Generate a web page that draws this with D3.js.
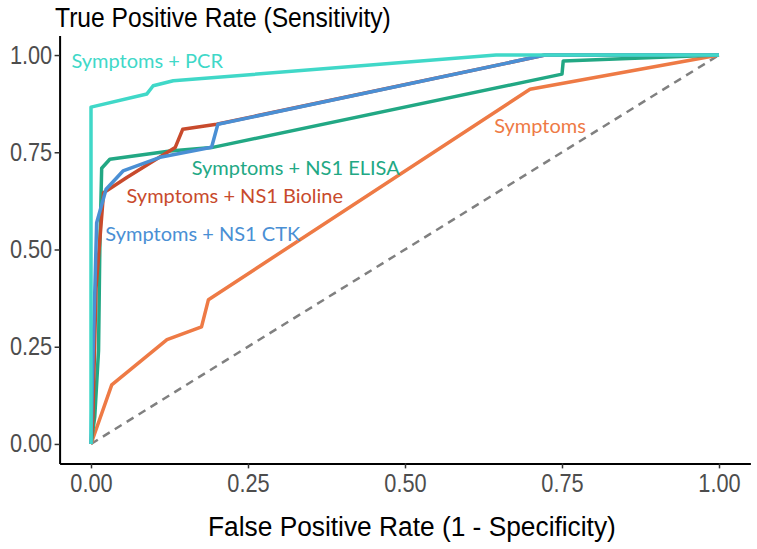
<!DOCTYPE html>
<html>
<head>
    <meta charset="utf-8">
    <title>ROC curves</title>
    <script type="text/javascript" src="https://d3js.org/d3.v7.min.js"></script>
    <style>
        body {
            margin: 0;
            background: #fff;
        }

        .axis-title {
            font-family: "Liberation Sans", Arial, sans-serif;
            font-size: 28px;
            fill: #000;
        }

        .tick-label {
            font-family: "Liberation Sans", Arial, sans-serif;
            font-size: 25px;
            fill: #4d4d4d;
        }

        .curve {
            fill: none;
            stroke-width: 3.5px;
            stroke-linejoin: round;
        }

        .curve-label {
            font-family: Lato, "Open Sans", sans-serif;
            font-size: 20px;
        }

        .diag {
            fill: none;
            stroke: #808080;
            stroke-width: 2.5px;
            stroke-dasharray: 8 6;
        }
    </style>
</head>

<body>

<script type="text/javascript">
    // values (FPR on x, TPR on y)
    var symptomsFpr = [0, 0.033, 0.121, 0.176, 0.187, 0.699, 1];
    var symptomsTpr = [0, 0.152, 0.268, 0.301, 0.371, 0.912, 1];

    var elisaFpr = [0, 0.006, 0.012, 0.014, 0.017, 0.030, 0.126, 0.192, 0.750, 0.752, 1];
    var elisaTpr = [0, 0.07, 0.24, 0.50, 0.709, 0.732, 0.753, 0.762, 0.951, 0.985, 1];

    var biolineFpr = [0, 0.003, 0.008, 0.020, 0.057, 0.134, 0.146, 0.200, 0.723, 1];
    var biolineTpr = [0, 0.07, 0.40, 0.646, 0.685, 0.762, 0.809, 0.822, 1, 1];

    var ctkFpr = [0, 0.002, 0.009, 0.024, 0.051, 0.110, 0.192, 0.202, 0.723, 1];
    var ctkTpr = [0, 0.15, 0.569, 0.655, 0.702, 0.737, 0.763, 0.822, 1, 1];

    var pcrFpr = [0, 0, 0.089, 0.099, 0.131, 0.645, 1];
    var pcrTpr = [0, 0.866, 0.900, 0.921, 0.934, 1, 1];

    var seriesNames = ["Symptoms", "Symptoms + NS1 ELISA", "Symptoms + NS1 Bioline",
        "Symptoms + NS1 CTK", "Symptoms + PCR"];
    var seriesColors = ["#ee7a45", "#22a884", "#c84a2c", "#4a8fd4", "#40d8c8"];

    // where each curve label sits, in data units (centre x, baseline y)
    var labelX = [0.715, 0.326, 0.229, 0.178, 0.0895];
    var labelY = [0.799, 0.692, 0.619, 0.523, 0.966];

    var tickValues = [0, 0.25, 0.5, 0.75, 1];

    var width = 757,
        height = 549;

    var series = [
        {fpr: symptomsFpr, tpr: symptomsTpr},
        {fpr: elisaFpr, tpr: elisaTpr},
        {fpr: biolineFpr, tpr: biolineTpr},
        {fpr: ctkFpr, tpr: ctkTpr},
        {fpr: pcrFpr, tpr: pcrTpr}
    ].map(function (s, i) {
        return {
            name: seriesNames[i],
            color: seriesColors[i],
            points: s.fpr.map(function (f, j) { return [f, s.tpr[j]]; })
        };
    });

    // ggplot-like 5% expansion on each side
    var x = d3.scaleLinear().domain([-0.05, 1.05]).range([59.6, 750.4]);
    var y = d3.scaleLinear().domain([-0.05, 1.05]).range([463.4, 35.6]);

    var svg = d3.select("body")
            .append("svg")
            .attr("width", width)
            .attr("height", height);

    var line = d3.line()
            .x(function (d) { return x(d[0]); })
            .y(function (d) { return y(d[1]); });

    // chance diagonal
    svg.append("path")
            .datum([[0, 0], [1, 1]])
            .attr("class", "diag")
            .attr("d", line);

    svg.selectAll(".curve")
            .data(series)
            .enter()
            .append("path")
            .attr("class", "curve")
            .attr("stroke", function (d) { return d.color; })
            .attr("d", function (d) { return line(d.points); });

    svg.selectAll(".curve-label")
            .data(series)
            .enter()
            .append("text")
            .attr("class", "curve-label")
            .attr("x", function (d, i) { return x(labelX[i]); })
            .attr("y", function (d, i) { return y(labelY[i]); })
            .attr("text-anchor", "middle")
            .attr("fill", function (d) { return d.color; })
            .text(function (d) { return d.name; });

    // axes
    var xAxis = svg.append("g")
            .attr("transform", "translate(0," + y.range()[0] + ")")
            .call(d3.axisBottom(x).tickValues(tickValues).tickFormat(d3.format(".2f"))
                    .tickSizeInner(5).tickSizeOuter(0).tickPadding(6));

    var yAxis = svg.append("g")
            .attr("transform", "translate(" + x.range()[0] + ",0)")
            .call(d3.axisLeft(y).tickValues(tickValues).tickFormat(d3.format(".2f"))
                    .tickSizeInner(5).tickSizeOuter(0).tickPadding(2));

    // the reference uses a narrow grotesque; squeeze Liberation Sans to match
    [xAxis, yAxis].forEach(function (g) {
        g.attr("font-size", null).attr("font-family", null);
        g.select(".domain").attr("stroke", "#000").attr("stroke-width", 2);
        g.selectAll(".tick line").attr("stroke", "#333").attr("stroke-width", 1.5);
        g.selectAll(".tick text")
                .attr("class", "tick-label")
                .attr("fill", null)
                .attr("transform", "scale(0.87,1)");
    });
    yAxis.selectAll(".tick text").attr("x", -8.5);

    svg.append("text")
            .attr("class", "axis-title")
            .attr("transform", "translate(55,27) scale(0.88,1)")
            .text("True Positive Rate (Sensitivity)");

    svg.append("text")
            .attr("class", "axis-title")
            .attr("transform", "translate(208,536) scale(0.94,1)")
            .text("False Positive Rate (1 - Specificity)");
</script>

</body>

</html>
